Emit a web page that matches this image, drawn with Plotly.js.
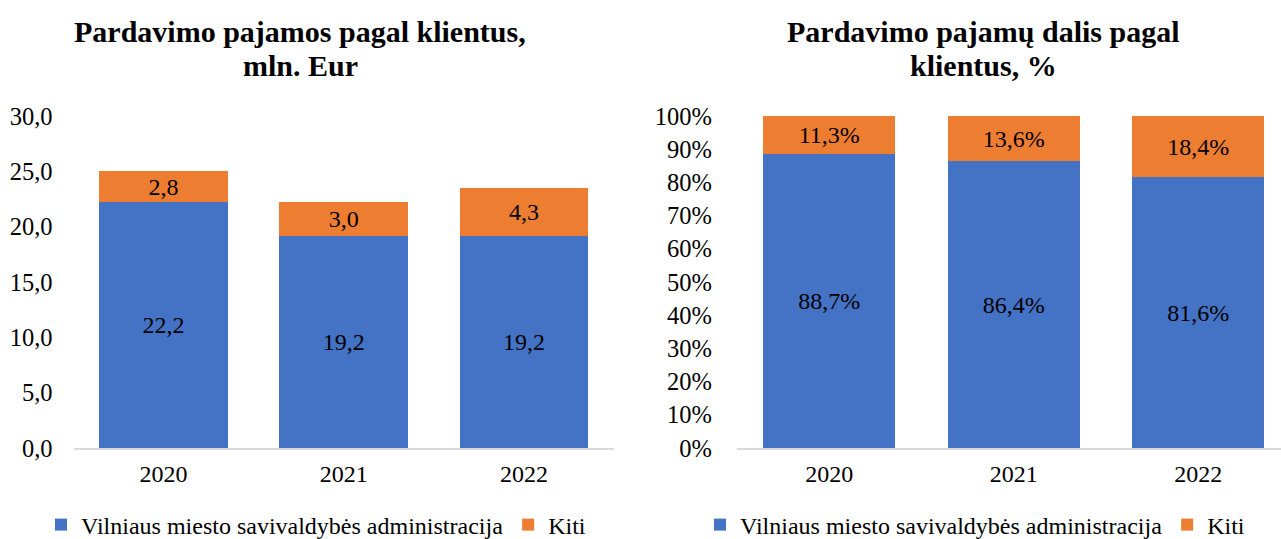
<!DOCTYPE html>
<html>
<head>
<meta charset="utf-8">
<script src="https://cdn.plot.ly/plotly-3.0.1.min.js"></script>
<style>html,body{margin:0;padding:0;background:#fff;}#chart{width:1281px;height:539px;}</style>
</head>
<body>
<div id="chart"></div>
<script>
const years = ['2020', '2021', '2022'];
const vilnius = [22.2, 19.2, 19.2];
const kiti = [2.8, 3.0, 4.3];
const vilniusPct = [88.7, 86.4, 81.6];
const kitiPct = [11.3, 13.6, 18.4];
const seriesNames = ['Vilniaus miesto savivaldybės administracija', 'Kiti'];
const titleLeft = ['Pardavimo pajamos pagal klientus,', 'mln. Eur'];
const titleRight = ['Pardavimo pajamų dalis pagal', 'klientus, %'];
const leftTicks = [0, 5, 10, 15, 20, 25, 30];
const rightTicks = [0, 10, 20, 30, 40, 50, 60, 70, 80, 90, 100];
const rightTickText = ['0%', '10%', '20%', '30%', '40%', '50%', '60%', '70%', '80%', '90%', '100%'];

const FONT = '"Liberation Serif", "Times New Roman", Times, serif';
const BLUE = '#4472C4', ORANGE = '#ED7D31';
const W = 1281, H = 539;

function bar(y, name, color, xa, ya, leg, tmpl) {
  return {
    type: 'bar', x: years, y: y, name: name,
    marker: {color: color},
    texttemplate: tmpl, textposition: 'inside', insidetextanchor: 'middle',
    textangle: 0, constraintext: 'none',
    textfont: {family: FONT, size: 24, color: '#000'},
    xaxis: xa, yaxis: ya, legend: leg, showlegend: true,
    hoverinfo: 'x+y+name'
  };
}

const data = [
  bar(vilnius, seriesNames[0], BLUE, 'x', 'y', 'legend', '%{y:.1f}'),
  bar(kiti, seriesNames[1], ORANGE, 'x', 'y', 'legend', '%{y:.1f}'),
  bar(vilniusPct, seriesNames[0], BLUE, 'x2', 'y2', 'legend2', '%{y:.1f}%'),
  bar(kitiPct, seriesNames[1], ORANGE, 'x2', 'y2', 'legend2', '%{y:.1f}%')
];

const yBot = (H - 448) / H, yTop = (H - 116) / H;

const xBase = {
  type: 'category', showgrid: false, zeroline: false,
  showline: true, linecolor: '#d9d9d9', linewidth: 1.5,
  ticks: '', ticklabelstandoff: 4,
  tickfont: {family: FONT, size: 24, color: '#000'}, fixedrange: true
};
const yBase = {
  showgrid: false, zeroline: false, showline: false, ticks: '',
  tickfont: {family: FONT, size: 24.5, color: '#000'}, fixedrange: true
};

function titleAnn(text, xpx, ypx) {
  return {text: '<b>' + text + '</b>', xref: 'paper', yref: 'paper', x: xpx / W, y: (H - ypx) / H,
    xanchor: 'center', yanchor: 'middle', showarrow: false,
    font: {family: FONT, size: 30, color: '#000'}};
}

const legBase = {
  orientation: 'h', xanchor: 'left', yanchor: 'middle', y: (H - 525) / H,
  font: {family: FONT, size: 24, color: '#000'}, traceorder: 'normal',
  bgcolor: 'rgba(0,0,0,0)'
};

const layout = {
  width: W, height: H,
  margin: {l: 0, r: 0, t: 0, b: 0, autoexpand: false},
  paper_bgcolor: '#fff', plot_bgcolor: '#fff',
  separators: ', ',
  barmode: 'stack', bargap: 0.285,
  font: {family: FONT, color: '#000'},
  xaxis: Object.assign({}, xBase, {domain: [73.5 / W, 614 / W], anchor: 'y'}),
  yaxis: Object.assign({}, yBase, {domain: [yBot, yTop], range: [0, 30], tickvals: leftTicks,
    tickformat: '.1f', ticklabelstandoff: 20, anchor: 'x'}),
  xaxis2: Object.assign({}, xBase, {domain: [737 / W, 1], anchor: 'y2', range: [-0.5, 2.448]}),
  yaxis2: Object.assign({}, yBase, {domain: [yBot, yTop], range: [0, 100], tickmode: 'array',
    tickvals: rightTicks, ticktext: rightTickText, ticklabelstandoff: 24, anchor: 'x2'}),
  legend: Object.assign({}, legBase, {x: 41 / W}),
  legend2: Object.assign({}, legBase, {x: 700 / W}),
  annotations: [
    titleAnn(titleLeft[0], 300, 31),
    titleAnn(titleLeft[1], 300, 65),
    titleAnn(titleRight[0], 983, 31),
    titleAnn(titleRight[1], 983, 65)
  ]
};

Plotly.newPlot('chart', data, layout, {displayModeBar: false, staticPlot: true});
</script>
</body>
</html>
